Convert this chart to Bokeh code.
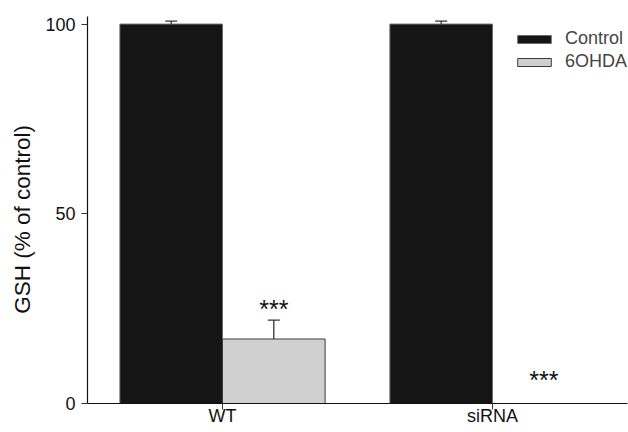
from bokeh.plotting import figure
from bokeh.models import (ColumnDataSource, FactorRange, Range1d, Whisker, TeeHead,
                          FixedTicker, Legend)
from bokeh.transform import dodge
from bokeh.core.properties import value
from bokeh.embed import file_html
from bokeh.resources import INLINE

# ---- data ----
groups = ["WT", "siRNA"]
control = [100, 100]
control_err = [0.8, 0.8]
ohda = [17, 0]
ohda_err = [5, 0]
star_labels = ["***", "***"]
star_y = [24.9, 6.1]
y_ticks = [0, 50, 100]

FONT = "Liberation Sans"
OFF = 0.19
W = 0.38

src = ColumnDataSource(dict(
    group=groups, control=control, ohda=ohda,
    c_lo=control, c_hi=[v + e for v, e in zip(control, control_err)],
))
wk = [i for i, e in enumerate(ohda_err) if e > 0]
src_o_err = ColumnDataSource(dict(
    group=[groups[i] for i in wk],
    lo=[ohda[i] for i in wk],
    hi=[ohda[i] + ohda_err[i] for i in wk],
))
src_star = ColumnDataSource(dict(group=groups, y=star_y, t=star_labels))

p = figure(width=628, height=432, output_backend="svg", toolbar_location=None,
           x_range=FactorRange(factors=groups, range_padding=0),
           y_range=Range1d(0, 102),
           min_border_left=87, min_border_right=1, min_border_top=16, min_border_bottom=29)
p.outline_line_color = None
p.grid.grid_line_color = None
p.background_fill_color = "white"

r1 = p.vbar(x=dodge("group", -OFF, range=p.x_range), top="control", width=W, source=src,
            fill_color="#151515", line_color="#6a6a6a", line_width=1)
r2 = p.vbar(x=dodge("group", OFF, range=p.x_range), top="ohda", width=W, source=src,
            fill_color="#d0d0d0", line_color="#3a3a3a", line_width=1)

w1 = Whisker(source=src, base=dodge("group", -OFF, range=p.x_range), upper="c_hi", lower="c_lo",
             dimension="height", line_color="#333333", line_width=1.3,
             upper_head=TeeHead(size=12, line_color="#333333", line_width=1.3), lower_head=None)
w2 = Whisker(source=src_o_err, base=dodge("group", OFF, range=p.x_range), upper="hi", lower="lo",
             dimension="height", line_color="#333333", line_width=1.3,
             upper_head=TeeHead(size=12, line_color="#333333", line_width=1.3), lower_head=None)
p.add_layout(w1)
p.add_layout(w2)

p.text(x=dodge("group", OFF, range=p.x_range), y="y", text="t", source=src_star,
       text_font=value(FONT), text_font_size="25px", text_color="#111111",
       text_align="center", text_baseline="alphabetic")

# axes
p.yaxis.ticker = FixedTicker(ticks=y_ticks)
p.yaxis.axis_label = "GSH (% of control)\u00a0\u00a0\u00a0"
p.yaxis.axis_label_text_font = FONT
p.yaxis.axis_label_text_font_style = "normal"
p.yaxis.axis_label_text_font_size = "22.5px"
p.yaxis.axis_label_text_color = "#111111"
p.yaxis.axis_label_standoff = 7
p.yaxis.major_label_standoff = 6
for ax in (p.xaxis[0], p.yaxis[0]):
    ax.major_label_text_font = FONT
    ax.major_label_text_font_size = "18px"
    ax.major_label_text_color = "#111111"
    ax.axis_line_color = "#111111"
    ax.axis_line_width = 1.2
    ax.major_tick_line_color = "#333333"
    ax.major_tick_in = 0
    ax.minor_tick_line_color = None
p.yaxis.major_tick_out = 6
p.xaxis.major_tick_out = 6
p.xaxis.major_label_standoff = -4

legend = Legend(items=[("Control", [r1]), ("6OHDA", [r2])], location=(426, 331),
                border_line_color=None, background_fill_alpha=0,
                label_text_font=FONT, label_text_font_size="18px",
                glyph_width=42, glyph_height=10, label_standoff=10,
                spacing=2, padding=0, margin=0)
p.add_layout(legend, "center")

open("out.html", "w").write(file_html(p, INLINE))
